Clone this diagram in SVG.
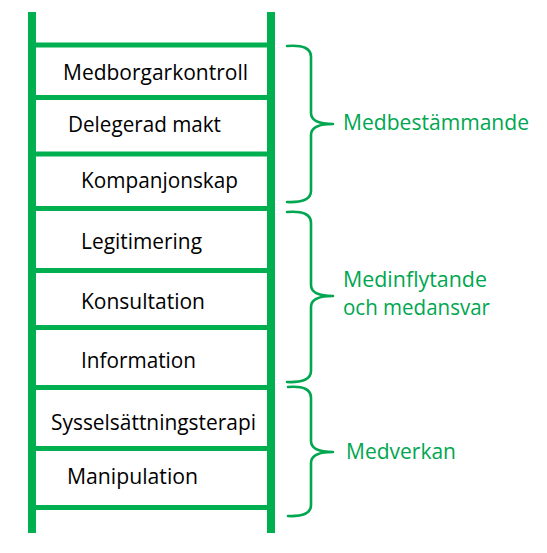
<svg xmlns="http://www.w3.org/2000/svg" width="547" height="553" viewBox="0 0 547 553">
<style>
.rail{stroke:#00B050;stroke-width:8;fill:none}
.rung{stroke:#00B050;stroke-width:5;fill:none}
.step{font-family:"Open Sans","Liberation Sans",sans-serif;font-size:21px;fill:#000}
.lbl{font-family:"Open Sans","Liberation Sans",sans-serif;font-size:21px;fill:#00A650}
.brace{stroke:#00A650;stroke-width:2.6;fill:none;stroke-linejoin:round;stroke-linecap:round}
</style>
<rect width="547" height="553" fill="#fff"/>
<g id="ladder">
<line class="rail" x1="32" y1="12" x2="32" y2="533"/>
<line class="rail" x1="271" y1="12" x2="271" y2="533"/>
<line class="rung" x1="32" y1="45" x2="271" y2="45"/>
<line class="rung" x1="32" y1="97.5" x2="271" y2="97.5"/>
<line class="rung" x1="32" y1="154" x2="271" y2="154"/>
<line class="rung" x1="32" y1="208.5" x2="271" y2="208.5"/>
<line class="rung" x1="32" y1="270.5" x2="271" y2="270.5"/>
<line class="rung" x1="32" y1="327.5" x2="271" y2="327.5"/>
<line class="rung" x1="32" y1="387.5" x2="271" y2="387.5"/>
<line class="rung" x1="32" y1="448.5" x2="271" y2="448.5"/>
<line class="rung" x1="32" y1="507.5" x2="271" y2="507.5"/>
</g>
<g id="step-medborgarkontroll"><text class="step" x="63" y="80" textLength="185" lengthAdjust="spacingAndGlyphs">Medborgarkontroll</text></g>
<g id="step-delegerad-makt"><text class="step" x="68" y="132" textLength="153" lengthAdjust="spacingAndGlyphs">Delegerad makt</text></g>
<g id="step-kompanjonskap"><text class="step" x="81" y="188" textLength="157" lengthAdjust="spacingAndGlyphs">Kompanjonskap</text></g>
<g id="step-legitimering"><text class="step" x="81" y="249" textLength="121" lengthAdjust="spacingAndGlyphs">Legitimering</text></g>
<g id="step-konsultation"><text class="step" x="81" y="309" textLength="124" lengthAdjust="spacingAndGlyphs">Konsultation</text></g>
<g id="step-information"><text class="step" x="81" y="368" textLength="115" lengthAdjust="spacingAndGlyphs">Information</text></g>
<g id="step-sysselsattningsterapi"><text class="step" x="51" y="430" textLength="205" lengthAdjust="spacingAndGlyphs">Sysselsättningsterapi</text></g>
<g id="step-manipulation"><text class="step" x="67" y="484" textLength="131" lengthAdjust="spacingAndGlyphs">Manipulation</text></g>
<g id="connectors">
<path class="brace" d="M287,46 Q311,44 311,57 L311,113 Q311,124 333,124 Q311,124 311,135 L311,191 Q311,203 287,202"/>
<path class="brace" d="M287,212 Q311,210 311,223 L311,285 Q311,296 333,296 Q311,296 311,307 L311,371 Q311,383 287,382"/>
<path class="brace" d="M288,387 Q311,385 311,398 L311,441 Q311,452 333,452 Q311,452 311,463 L311,505 Q311,517 288,516"/>
</g>
<g id="group-medbestammande"><text class="lbl" x="343" y="130" textLength="186" lengthAdjust="spacingAndGlyphs">Medbestämmande</text></g>
<g id="group-medinflytande"><text class="lbl" x="343" y="287" textLength="144" lengthAdjust="spacingAndGlyphs">Medinflytande</text><text class="lbl" x="343" y="315" textLength="147" lengthAdjust="spacingAndGlyphs">och medansvar</text></g>
<g id="group-medverkan"><text class="lbl" x="346" y="459" textLength="110" lengthAdjust="spacingAndGlyphs">Medverkan</text></g>
</svg>
